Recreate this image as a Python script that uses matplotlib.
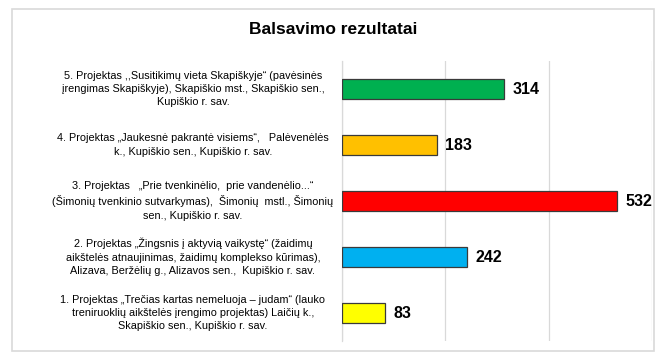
import matplotlib.pyplot as plt
import matplotlib.transforms as mtransforms
from matplotlib.patches import Rectangle

plt.rcParams['font.family'] = ['Liberation Sans', 'DejaVu Sans']

title = 'Balsavimo rezultatai'
labels = [
    '1. Projektas „Trečias kartas nemeluoja – judam“ (lauko\n'
    'treniruoklių aikštelės įrengimo projektas) Laičių k.,\n'
    'Skapiškio sen., Kupiškio r. sav.',
    '2. Projektas „Žingsnis į aktyvią vaikystę“ (žaidimų\n'
    'aikštelės atnaujinimas, žaidimų komplekso kūrimas),\n'
    'Alizava, Beržėlių g., Alizavos sen.,  Kupiškio r. sav.',
    '3. Projektas   „Prie tvenkinėlio,  prie vandenėlio...“\n'
    '(Šimonių tvenkinio sutvarkymas),  Šimonių  mstl., Šimonių\n'
    'sen., Kupiškio r. sav.',
    '4. Projektas „Jaukesnė pakrantė visiems“,   Palėvenėlės\n'
    'k., Kupiškio sen., Kupiškio r. sav.',
    '5. Projektas ,,Susitikimų vieta Skapiškyje“ (pavėsinės\n'
    'įrengimas Skapiškyje), Skapiškio mst., Skapiškio sen.,\n'
    'Kupiškio r. sav.',
]
votes = [83, 242, 532, 183, 314]
colors = ['#FFFF00', '#00B0F0', '#FF0000', '#FFC000', '#00B050']

fig = plt.figure(figsize=(6.66, 3.62), dpi=100)

# outer chart frame
fig.patches.append(Rectangle((12 / 666, 1 - 351 / 362), 642 / 666, 342 / 362,
                             transform=fig.transFigure, fill=False,
                             edgecolor='#D9D9D9', linewidth=1.2))

ax = fig.add_axes([342 / 666, 1 - 341 / 362, 310 / 666, 280 / 362])
y = range(len(votes))
ax.barh(y, votes, height=0.35, color=colors, edgecolor='#3A3A3A', linewidth=0.9, zorder=3)

ax.set_xlim(0, 600)
ax.set_ylim(-0.5, len(votes) - 0.5)
ax.set_xticks([0, 200, 400, 600])
ax.set_yticks([])
ax.xaxis.grid(True, color='#D9D9D9', linewidth=0.9, zorder=0)
ax.tick_params(axis='both', length=0, labelbottom=False)
for s in ['top', 'right', 'bottom']:
    ax.spines[s].set_visible(False)
ax.spines['left'].set_color('#D9D9D9')
ax.spines['left'].set_linewidth(0.9)

# category labels, centred in the left part of the chart
trans = mtransforms.blended_transform_factory(fig.transFigure, ax.transData)
for i, lab in enumerate(labels):
    ax.text(193 / 666, i, lab, transform=trans, ha='center', va='center',
            fontsize=7.8, linespacing=1.42, multialignment='center', clip_on=False)

for i, v in enumerate(votes):
    ax.text(v + 17, i, str(v), va='center', ha='left', fontsize=11.5, fontweight='bold', zorder=4)

fig.text(0.5, 1 - 30 / 362, title, ha='center', va='center', fontsize=12.5, fontweight='bold')

fig.savefig('out.png', dpi=100)
